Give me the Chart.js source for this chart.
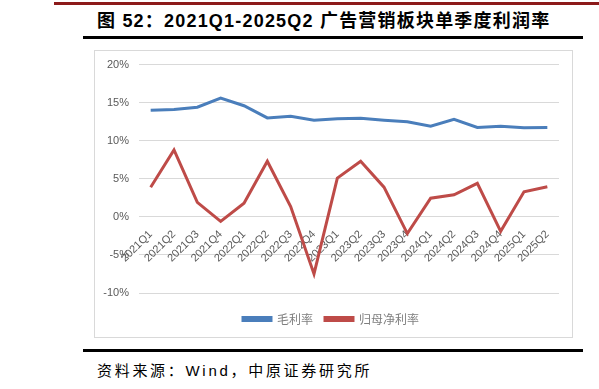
<!DOCTYPE html>
<html>
<head>
<meta charset="utf-8">
<script src="https://cdn.jsdelivr.net/npm/chart.js@4/dist/chart.umd.min.js"></script>
<style>
  body { margin: 0; width: 599px; height: 389px; background: #fff; position: relative; overflow: hidden; }
  #topLine { position: absolute; left: 54px; top: 2px; width: 545px; height: 3px; background: #8c1a1a; }
  #title { position: absolute; left: 97px; top: 6px; white-space: nowrap;
    font: bold 18px "Liberation Sans", "Noto Sans CJK SC", sans-serif; letter-spacing: 1.2px; color: #000; }
  #titleLine { position: absolute; left: 83px; top: 36px; width: 500px; height: 3px; background: #000; }
  #chartBox { position: absolute; left: 94px; top: 50px; width: 479px; height: 288px;
    border: 1px solid #d9d9d9; box-sizing: border-box; }
  /* canvas sits 3px higher than the box so the plot top lands on the 20% line */
  #myChart { display: block; position: absolute; left: 0; top: -3px; }
  #bottomLine { position: absolute; left: 83px; top: 349px; width: 500px; height: 3px; background: #000; }
  #source { position: absolute; left: 97px; top: 359px; white-space: nowrap;
    font: 15px "Liberation Sans", "Noto Sans CJK SC", sans-serif; letter-spacing: 2.7px; color: #000; }
</style>
</head>
<body>
<div id="topLine"></div>
<div id="title">图 52：2021Q1-2025Q2 广告营销板块单季度利润率</div>
<div id="titleLine"></div>
<div id="chartBox"><canvas id="myChart" width="477" height="289"></canvas></div>
<div id="bottomLine"></div>
<div id="source">资料来源：Wind，中原证券研究所</div>
<script>
//Chart Data
var quarters = ["2021Q1", "2021Q2", "2021Q3", "2021Q4", "2022Q1", "2022Q2", "2022Q3", "2022Q4",
  "2023Q1", "2023Q2", "2023Q3", "2023Q4", "2024Q1", "2024Q2", "2024Q3", "2024Q4", "2025Q1", "2025Q2"];
var grossMargin = [14.0, 14.1, 14.4, 15.6, 14.6, 13.0, 13.2, 12.7,
  12.9, 12.95, 12.7, 12.5, 11.9, 12.8, 11.75, 11.9, 11.7, 11.75];
var netMargin = [3.9, 8.8, 1.9, -0.6, 1.8, 7.3, 1.35, -7.5,
  5.1, 7.3, 3.9, -2.2, 2.45, 2.9, 4.4, -1.9, 3.3, 3.95];
var yTicks = [-10, -5, 0, 5, 10, 15, 20];

var tickFont = { family: "Liberation Sans", size: 11 };

//Create Chart
var ctx = document.getElementById('myChart').getContext("2d");
var myChart = new Chart(ctx, {
  type: 'line',
  data: {
    labels: quarters,
    datasets: [{
        label: "毛利率",
        data: grossMargin,
        borderColor: "#4a7ebb",
        backgroundColor: "#4a7ebb",
        borderWidth: 3,
        pointRadius: 0,
        tension: 0
      },
      {
        label: "归母净利率",
        data: netMargin,
        borderColor: "#be4b48",
        backgroundColor: "#be4b48",
        borderWidth: 3,
        pointRadius: 0,
        tension: 0
      }]
  },
  options: {
    responsive: false,
    animation: false,
    layout: { padding: { top: 11, right: 13, left: 8, bottom: 2 } },
    plugins: {
      legend: {
        position: 'bottom',
        //empty title only pushes the legend row down a little
        title: { display: true, text: '', padding: { top: 2, bottom: 0 }, font: { size: 5 } },
        labels: {
          boxWidth: 28,
          boxHeight: 3,
          padding: 12,
          color: "#7f7f7f",
          font: { family: "Noto Sans CJK SC", size: 12 }
        }
      },
      tooltip: { enabled: false }
    },
    scales: {
      x: {
        //labels hang off the 0% line like the original
        position: { y: 0 },
        offset: true,
        grid: { display: false, drawTicks: false },
        border: { display: false },
        ticks: {
          autoSkip: false,
          minRotation: 45,
          maxRotation: 45,
          padding: 11,
          color: "#595959",
          font: tickFont
        }
      },
      y: {
        min: -10,
        max: 20,
        afterFit: function (scale) { scale.width = 36; },
        afterBuildTicks: function (scale) {
          scale.ticks = yTicks.map(function (v) { return { value: v }; });
        },
        grid: { color: "#d9d9d9", lineWidth: 1, drawTicks: false },
        border: { display: false },
        ticks: {
          padding: 10,
          color: "#595959",
          font: tickFont,
          callback: function (v) { return v + "%"; }
        }
      }
    }
  }
});
</script>
</body>
</html>
